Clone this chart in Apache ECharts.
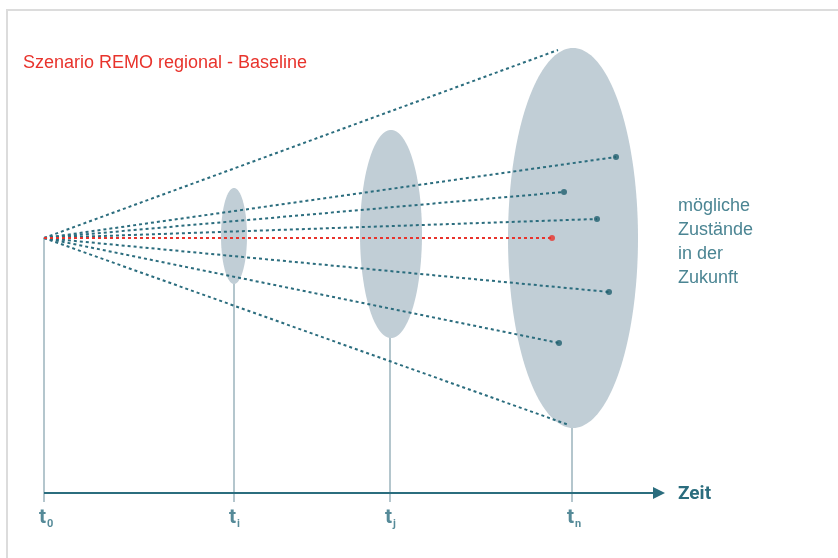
<!DOCTYPE html>
<html><head><meta charset="utf-8">
<script src="https://cdn.jsdelivr.net/npm/echarts@6/dist/echarts.min.js"></script>
<style>html,body{margin:0;padding:0;background:#fff}#c{width:838px;height:558px}</style>
</head><body><div id="c"></div>
<script>
// diagram coordinates (data space: x to the right, y downward)
const origin = [44, 238];
const timeSubscripts = ['0', 'i', 'j', 'n'];
const timeX = [44, 234, 390, 572];
const axisY = 493;
const axisEndX = 659;
const tickBottomY = 502;
const tickTopY = [238, 236, 234, 238];
const ellipseCX = [234, 391, 573];
const ellipseCY = [236, 234, 238];
const ellipseRX = [13, 31, 65];
const ellipseRY = [48, 104, 190];
const futureX = [558, 616, 564, 597, 609, 559, 569];
const futureY = [50, 157, 192, 219, 292, 343, 425];
const futureDot = [false, true, true, true, true, true, false];
const baselineX = [552];
const baselineY = [238];

const teal = '#2b6d7e';
const red = '#e8332c';

const chart = echarts.init(document.getElementById('c'));

const tickLines = timeX.map((x, i) => ({ coords: [[x, tickTopY[i]], [x, tickBottomY]] }));
const futureLines = futureX.map((x, i) => ({ coords: [origin, [x, futureY[i]]] }));
const futureDots = futureX.map((x, i) => [x, futureY[i]]).filter((d, i) => futureDot[i]);
const ellipseData = ellipseCX.map((x, i) => [x, ellipseCY[i], ellipseRX[i], ellipseRY[i]]);

chart.setOption({
  animation: false,
  backgroundColor: '#fff',
  grid: { left: 0, right: 0, top: 0, bottom: 0 },
  xAxis: { type: 'value', min: 0, max: 838, show: false },
  yAxis: { type: 'value', min: 0, max: 558, inverse: true, show: false },
  title: [
    { text: 'Szenario REMO regional - Baseline', left: 23, top: 54, padding: 0,
      textStyle: { color: red, fontSize: 18, fontWeight: 'normal', fontFamily: 'Liberation Sans' } },
    { text: 'mögliche\nZustände\nin der\nZukunft', left: 678, top: 194, padding: 0,
      textStyle: { color: '#4b8593', fontSize: 18, fontWeight: 'normal', fontFamily: 'Liberation Sans', lineHeight: 24 } },
    { text: 'Zeit', left: 678, top: 485, padding: 0,
      textStyle: { color: teal, fontSize: 19, fontWeight: 'bold', fontFamily: 'Roboto' } }
  ],
  graphic: [
    { type: 'line', shape: { x1: 6, y1: 10, x2: 838, y2: 10 }, style: { stroke: '#dcdcdc', lineWidth: 2 }, silent: true },
    { type: 'line', shape: { x1: 7, y1: 10, x2: 7, y2: 558 }, style: { stroke: '#dcdcdc', lineWidth: 2 }, silent: true }
  ],
  series: [
    {
      type: 'lines', coordinateSystem: 'cartesian2d', z: 1, silent: true,
      lineStyle: { color: '#9bb3bd', width: 1.5, opacity: 1 },
      data: tickLines
    },
    {
      type: 'custom', coordinateSystem: 'cartesian2d', z: 2, silent: true,
      data: ellipseData,
      renderItem: function (params, api) {
        const c = api.coord([api.value(0), api.value(1)]);
        const rx = api.size([api.value(2), 0])[0];
        const ry = api.size([0, api.value(3)])[1];
        const pts = [];
        for (let k = 0; k < 180; k++) {
          const a = k / 180 * Math.PI * 2;
          pts.push([c[0] + rx * Math.cos(a), c[1] + ry * Math.sin(a)]);
        }
        return { type: 'polygon', shape: { points: pts }, style: { fill: '#c1ced6' } };
      }
    },
    {
      type: 'lines', coordinateSystem: 'cartesian2d', z: 3, silent: true,
      symbol: ['none', 'triangle'], symbolSize: [10, 12],
      lineStyle: { color: teal, width: 2, opacity: 1 },
      data: [{ coords: [[timeX[0], axisY], [axisEndX, axisY]] }]
    },
    {
      type: 'lines', coordinateSystem: 'cartesian2d', z: 4, silent: true,
      lineStyle: { color: teal, width: 2, type: [3, 3], opacity: 1 },
      data: futureLines
    },
    {
      type: 'lines', coordinateSystem: 'cartesian2d', z: 5, silent: true,
      lineStyle: { color: red, width: 2, type: [3, 3], opacity: 1 },
      data: [{ coords: [origin, [baselineX[0], baselineY[0]]] }]
    },
    {
      type: 'scatter', z: 6, silent: true, symbolSize: 6,
      itemStyle: { color: '#1f5f6e' },
      data: futureDots
    },
    {
      type: 'scatter', z: 6, silent: true, symbolSize: 6,
      itemStyle: { color: red },
      data: baselineX.map((x, i) => [x, baselineY[i]])
    },
    {
      type: 'scatter', z: 7, silent: true, symbolSize: 0,
      data: timeX.map((x, i) => ({ value: [x, axisY], sub: timeSubscripts[i] })),
      label: {
        show: true, position: [-5, 13], align: 'left', verticalAlign: 'top',
        formatter: function (p) { return '{t|t}{s|' + p.data.sub + '}'; },
        rich: {
          t: { fontSize: 21, fontWeight: 'bold', color: teal, fontFamily: 'Roboto', lineHeight: 22 },
          s: { fontSize: 11, fontWeight: 'bold', color: teal, fontFamily: 'Roboto', padding: [13, 0, 0, 1] }
        }
      }
    }
  ]
});
</script>
</body></html>
